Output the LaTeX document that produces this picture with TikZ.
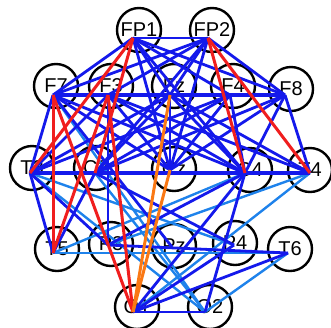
\documentclass[tikz,border=0pt]{standalone}
\usepackage{fontspec}
\setmainfont{Liberation Sans}
\begin{document}
\begin{tikzpicture}[x=1pt,y=-1pt,
  elec/.style={circle,draw=black,line width=2.4pt,minimum size=44pt,inner sep=0pt,font=\fontsize{20}{22}\selectfont},
  bl/.style={draw={rgb,255:red,20;green,25;blue,235},line width=2.8pt},
  lb/.style={draw={rgb,255:red,30;green,130;blue,235},line width=2.4pt},
  rd/.style={draw={rgb,255:red,240;green,30;blue,30},line width=3pt},
  og/.style={draw={rgb,255:red,250;green,120;blue,20},line width=3pt}]
\useasboundingbox (0,0) rectangle (331,327);
\fill[white] (0,0) rectangle (331,327);
% electrode circles
\node[elec] (cFP1) at (139,30) {FP1};
\node[elec] (cFP2) at (212,30) {FP2};
\node[elec] (cF7) at (56,86) {F7};
\node[elec] (cF3) at (111,86) {F3};
\node[elec] (cFz) at (174,86) {Fz};
\node[elec] (cF4) at (233,86) {F4};
\node[elec] (cF8) at (291,89) {F8};
\node[elec] (cT3) at (32,168) {T3};
\node[elec] (cC3) at (96,168) {C3};
\node[elec] (cCz) at (174,169) {Cz};
\node[elec] (cC4) at (250,170) {C4};
\node[elec] (cT4) at (310,170) {T4};
\node[elec] (cT5) at (57,249) {T5};
\node[elec] (cP3) at (111,244) {P3};
\node[elec] (cPz) at (174,246) {Pz};
\node[elec] (cP4) at (235,243) {P4};
\node[elec] (cT6) at (290,249) {T6};
\node[elec] (cO1) at (137,307) {O1};
\node[elec] (cO2) at (210,307) {O2};
% connector anchor points
\coordinate (FP1) at (133,38);
\coordinate (FP2) at (208,38);
\coordinate (F7) at (53,95);
\coordinate (F3) at (108,95);
\coordinate (Fz) at (170,95);
\coordinate (F4) at (230,95);
\coordinate (F8) at (285,95);
\coordinate (T3) at (30,173);
\coordinate (C3) at (95,173);
\coordinate (Cz) at (170,170);
\coordinate (C4) at (245,173);
\coordinate (T4) at (310,173);
\coordinate (T5) at (53,253);
\coordinate (P3) at (108,245);
\coordinate (Pz) at (172,247);
\coordinate (P4) at (234,245);
\coordinate (T6) at (288,253);
\coordinate (O1) at (133,312);
\coordinate (O2) at (205,312);
% light blue connectors
\foreach \a/\b in {T5/T6,T3/P4,T3/O2,C3/O2,O2/T6,T4/O1,T4/P3,C4/T5,F7/O2}
  \draw[lb] (\a) -- (\b);
% blue connectors
\foreach \a/\b in {FP1/FP2,FP1/F7,FP1/F8,FP1/Fz,FP1/F4,FP1/Cz,FP1/C4,
  FP2/F7,FP2/F3,FP2/Fz,FP2/F8,FP2/Cz,FP2/C3,
  F7/T3,F7/Cz,F7/C4,F7/Pz,
  F3/Cz,F3/C4,F3/T4,F3/P3,
  Fz/T3,Fz/C3,Fz/C4,Fz/T4,Fz/Cz,
  F4/C3,F4/T3,F4/C4,F4/Cz,
  F8/C3,F8/Cz,F8/T4,F8/C4,
  T3/T5,T3/F3,T3/P3,C3/P4,C3/T5,C4/P3,C4/O1,C4/O2,P3/T6,
  O1/O2,O1/T6,O1/P4}
  \draw[bl] (\a) -- (\b);
\draw[bl,line width=4.5pt] (F7) -- (F8);
\draw[bl,line width=3.6pt] (T3) -- (T4);
% red connectors
\foreach \a/\b in {FP1/T3,FP1/C3,FP2/C4,FP2/T4,F7/T5,F3/T5,F7/O1,F3/O1}
  \draw[rd] (\a) -- (\b);
% orange connectors
\foreach \a/\b in {Fz/O1,Cz/O1}
  \draw[og] (\a) -- (\b);
\end{tikzpicture}
\end{document}
